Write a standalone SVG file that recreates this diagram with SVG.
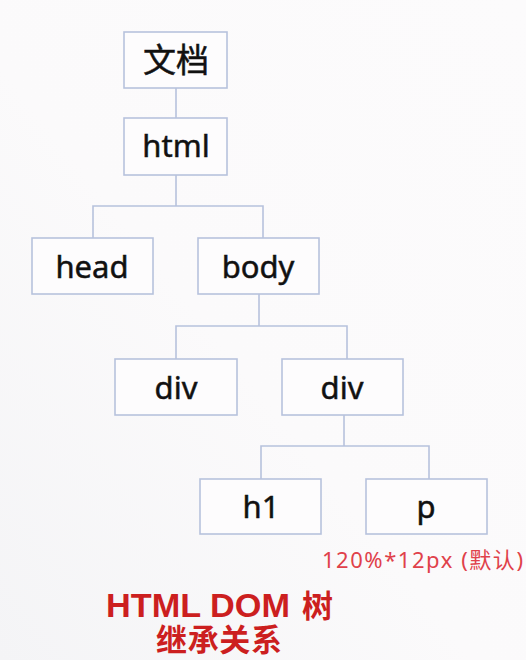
<svg xmlns="http://www.w3.org/2000/svg" width="526" height="660" viewBox="0 0 526 660">
<defs>
<linearGradient id="bg" x1="0" y1="1" x2="1" y2="0">
<stop offset="0" stop-color="#f4f4f6"/>
<stop offset="0.45" stop-color="#fbfafb"/>
<stop offset="1" stop-color="#fcfbfc"/>
</linearGradient>
</defs>
<style>
.box{fill:#fdfcfd;stroke:#b7c2dd;stroke-width:1.6}
.lbl{font-family:"Noto Sans","Noto Sans CJK SC",sans-serif;font-size:31px;fill:#111;stroke:#111;stroke-width:0.5;text-anchor:middle}
.cjk{font-family:"Noto Sans CJK SC",sans-serif;font-size:33px}
.con{fill:none;stroke:#b7c2dd;stroke-width:1.6}
.note{font-family:"Noto Sans","Noto Sans CJK SC",sans-serif;font-size:22px;fill:#e0414a}
.title{font-family:"Liberation Sans","Noto Sans CJK SC",sans-serif;font-weight:bold;fill:#cc1f1f}
</style>
<rect width="526" height="660" fill="url(#bg)"/>
<g id="connectors">
<path class="con" d="M176,88 V118"/>
<path class="con" d="M176,175 V206 M93,238 V206 H263 V238"/>
<path class="con" d="M259,294 V326 M176,359 V326 H347 V359"/>
<path class="con" d="M344,415 V446 M261,479 V446 H429 V479"/>
</g>
<g id="node-doc"><rect class="box" x="124" y="32" width="103" height="56"/><text class="lbl cjk" x="176" y="72">文档</text></g>
<g id="node-html"><rect class="box" x="124" y="118" width="103" height="57"/><text class="lbl" x="176" y="157">html</text></g>
<g id="node-head"><rect class="box" x="32" y="238" width="121" height="56"/><text class="lbl" x="92" y="278">head</text></g>
<g id="node-body"><rect class="box" x="198" y="238" width="121" height="56"/><text class="lbl" x="258" y="278">body</text></g>
<g id="node-div1"><rect class="box" x="115" y="359" width="122" height="56"/><text class="lbl" x="176" y="399">div</text></g>
<g id="node-div2"><rect class="box" x="282" y="359" width="121" height="56"/><text class="lbl" x="342" y="399">div</text></g>
<g id="node-h1"><rect class="box" x="200" y="479" width="121" height="55"/><text class="lbl" x="261" y="518">h1</text></g>
<g id="node-p"><rect class="box" x="366" y="479" width="121" height="55"/><text class="lbl" x="426" y="518">p</text></g>
<text class="note" x="322" y="568" textLength="201" lengthAdjust="spacing">120%*12px (默认)</text>
<text class="title" x="106" y="617" font-size="33" textLength="184" lengthAdjust="spacingAndGlyphs">HTML DOM</text>
<text class="title" x="302" y="617" font-size="31">树</text>
<text class="title" x="156" y="651" font-size="31" textLength="126">继承关系</text>
</svg>
